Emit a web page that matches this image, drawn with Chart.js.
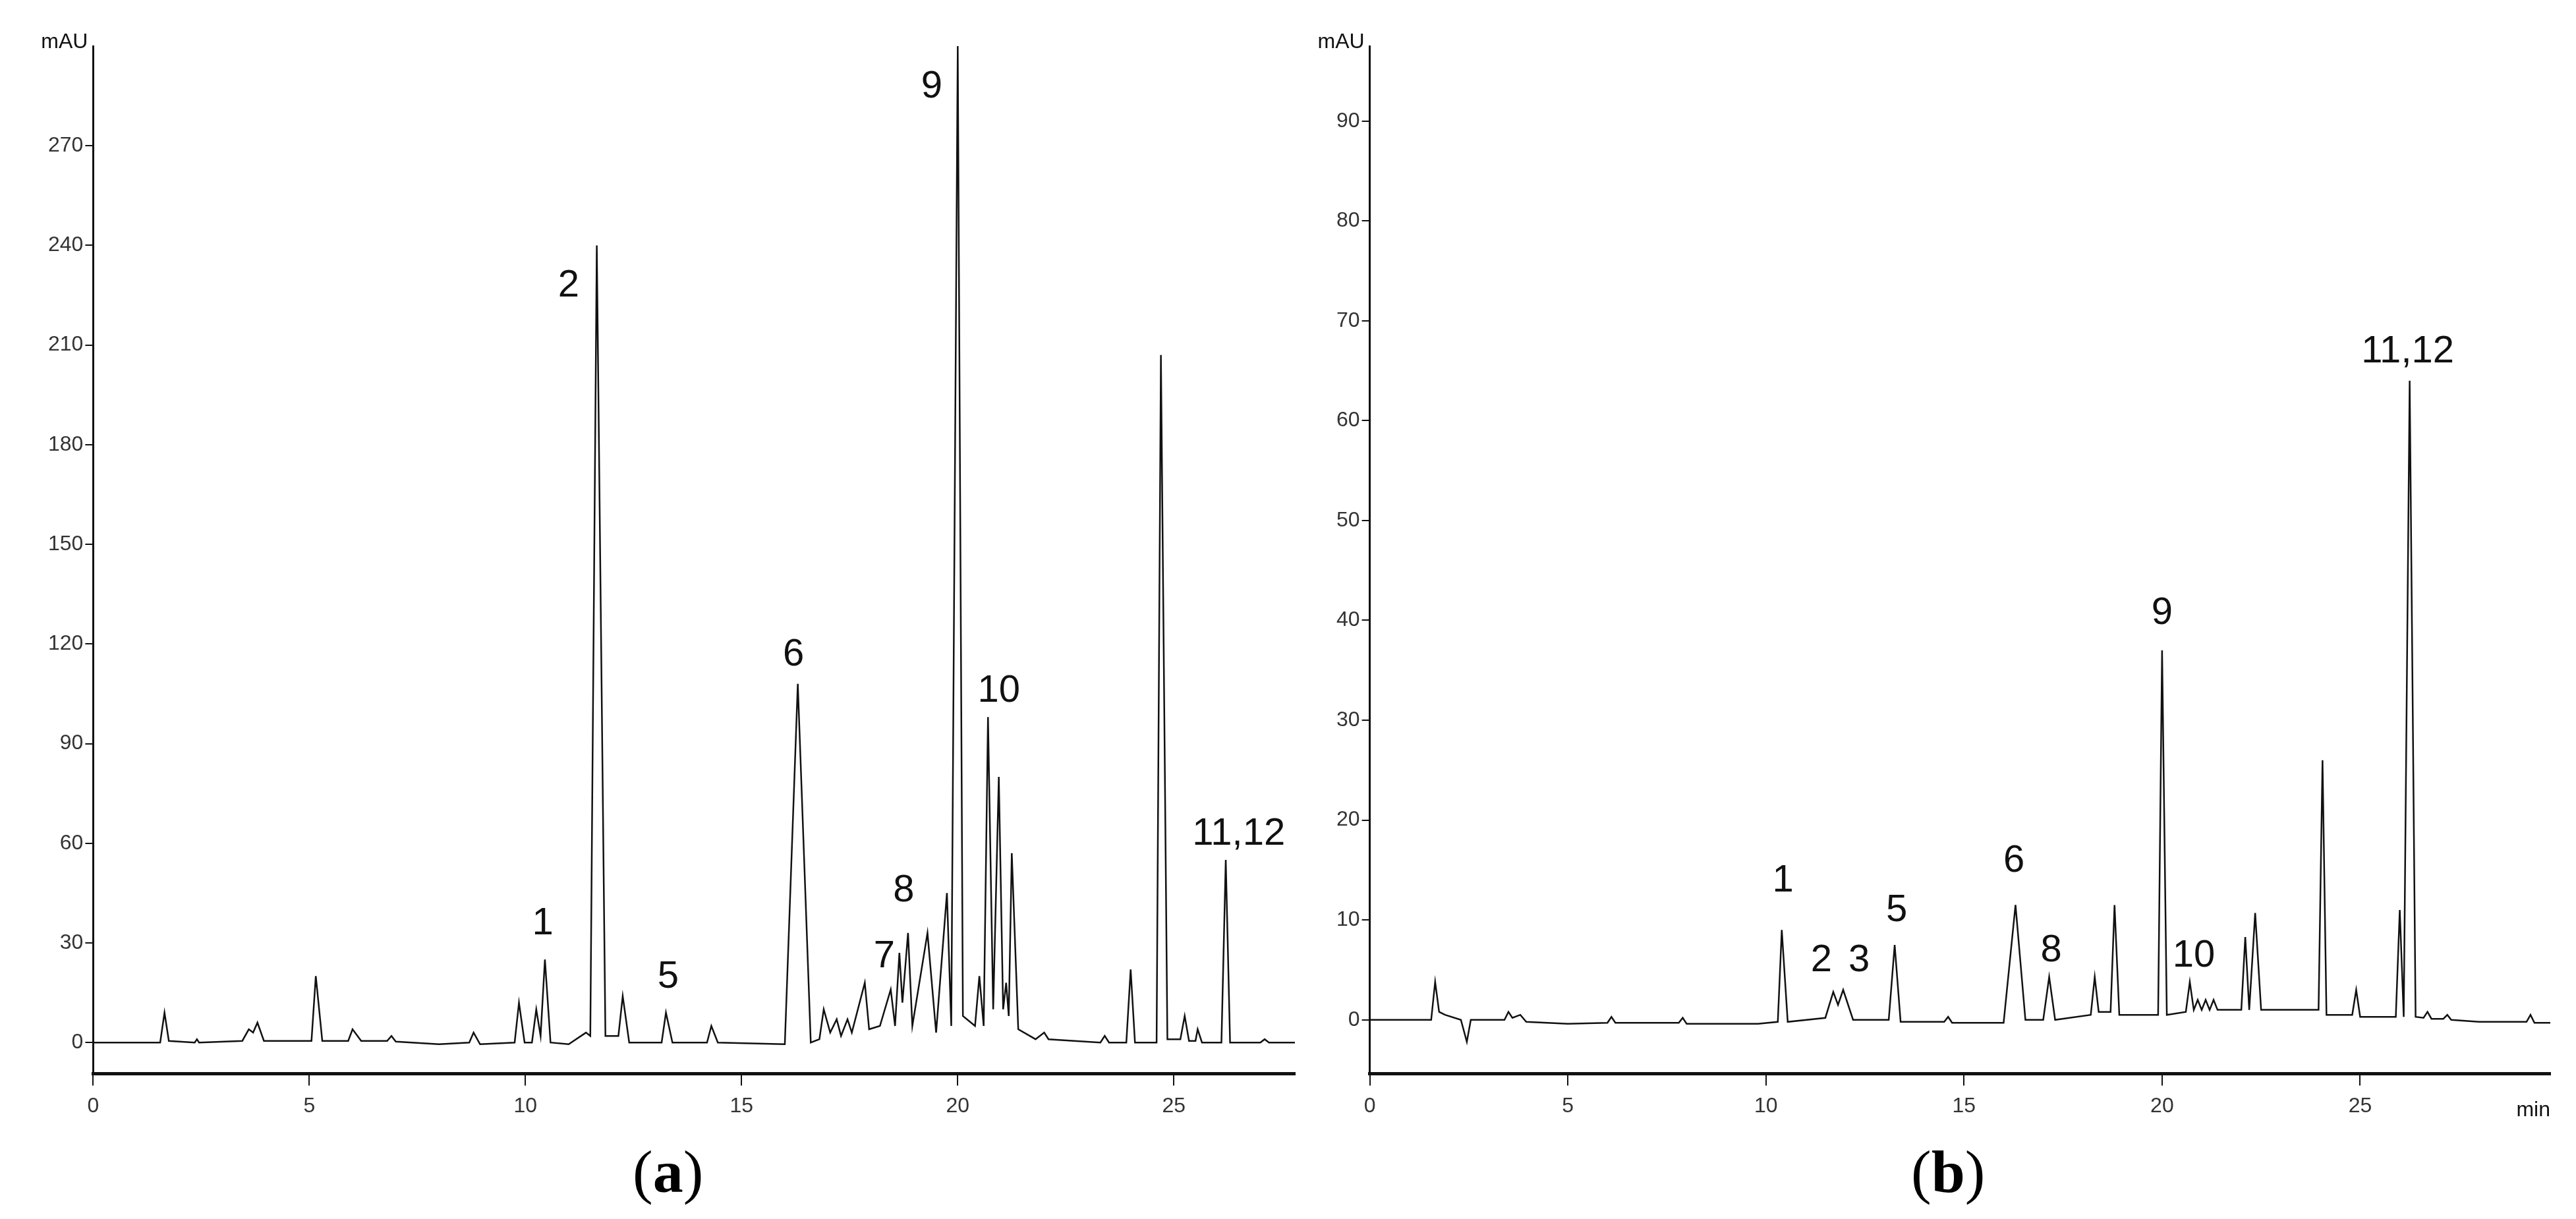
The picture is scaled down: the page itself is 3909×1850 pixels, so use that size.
<!DOCTYPE html>
<html>
<head>
<meta charset="utf-8">
<script src="https://cdn.jsdelivr.net/npm/chart.js@4"></script>
<style>
  body { margin: 0; background: #fff; width: 3909px; height: 1850px; position: relative; overflow: hidden; }
  .box { position: absolute; top: 10px; }
  .cap { position: absolute; top: 1725px; font-family: "Liberation Serif", serif; font-size: 92px; }
</style>
</head>
<body>
<div class="box" style="left:30px"><canvas id="chartA" width="1960" height="1700"></canvas></div>
<div class="box" style="left:1985px"><canvas id="chartB" width="1910" height="1700"></canvas></div>
<div class="cap" style="left:960px">(<b>a</b>)</div>
<div class="cap" style="left:2900px">(<b>b</b>)</div>
<script>
// chromatogram (a): retention time (min) and absorbance (mAU)
const timesA = [0,1.55,1.65,1.75,2.35,2.4,2.45,3.45,3.6,3.7,3.8,3.95,5.05,5.15,5.3,5.9,6.0,6.2,6.8,6.9,7.0,8.0,8.7,8.8,8.95,
  9.75,9.85,9.98,10.15,10.25,10.35,10.45,10.58,11.0,11.4,11.5,11.65,11.85,12.15,12.25,12.4,13.15,13.25,13.4,14.2,14.3,14.45,
  16.0,16.3,16.6,16.8,16.9,17.05,17.2,17.3,17.45,17.55,17.85,17.95,18.2,18.45,18.55,18.65,18.72,18.85,18.95,19.3,19.5,19.75,19.85,
  20.0,20.12,20.4,20.5,20.6,20.7,20.82,20.95,21.05,21.12,21.18,21.25,21.4,21.8,22.0,22.1,23.3,23.4,23.5,23.9,24.0,24.1,24.6,24.7,24.85,
  25.15,25.25,25.35,25.5,25.55,25.65,26.1,26.2,26.3,27.0,27.1,27.2,27.8]
const valuesA = [0,0,9,0.5,0,1,0,0.5,4,3,6,0.5,0.5,20,0.5,0.5,4,0.5,0.5,2,0.3,-0.5,0,3,-0.5,
  0,12,0,0,10,2,25,0,-0.5,3,2,240,2,2,14,0,0,9,0,0,5,0,
  -0.5,108,0,1,10,3,7,2,7,3,18,4,5,16,5,27,12,33,5,33,3,45,5,
  300,8,5,20,5,98,10,80,10,18,8,57,4,1,3,1,0,2,0,0,22,0,0,207,1,
  1,8,0.5,0.5,4,0,0,55,0,0,1,0,0]
const yTicksA = [0,30,60,90,120,150,180,210,240,270]
const xTicksA = [0,5,10,15,20,25]
const peakNamesA = ['1','2','5','6','7','8','9','10','11,12']
const peakXA = [10.4,11.0,13.3,16.2,18.3,18.75,19.4,20.95,26.5]
const peakYA = [30,222,14,111,20,40,282,100,57]

// chromatogram (b)
const timesB = [0,1.55,1.65,1.75,1.9,2.3,2.45,2.55,3.4,3.5,3.6,3.8,3.95,5.0,6.0,6.1,6.2,7.8,7.9,8.0,9.8,10.3,10.4,10.55,11.5,11.7,11.82,11.95,12.2,
  13.1,13.25,13.4,14.5,14.6,14.7,16.0,16.3,16.55,17.0,17.15,17.3,18.2,18.3,18.4,18.7,18.8,18.92,19.9,20.0,20.12,20.6,20.7,20.8,20.9,21.0,21.1,21.2,21.3,21.4,
  22.0,22.1,22.2,22.35,22.5,23.5,23.95,24.05,24.15,24.8,24.9,25.0,25.9,26.0,26.1,26.25,26.4,26.6,26.7,26.8,27.1,27.2,27.3,28.0,29.2,29.3,29.4,29.8]
const valuesB = [0,0,3.8,0.8,0.5,0,-2.2,0,0,0.8,0.2,0.5,-0.2,-0.4,-0.3,0.3,-0.3,-0.3,0.2,-0.4,-0.4,-0.2,9,-0.2,0.2,2.8,1.5,3,0,
  0,7.5,-0.2,-0.2,0.3,-0.3,-0.3,11.5,0,0,4.3,0,0.5,4.3,0.8,0.8,11.5,0.5,0.5,37,0.5,0.8,3.8,1,2,1,2,1,2,1,
  1,8.3,1,10.7,1,1,1,26,0.5,0.5,3,0.3,0.3,11,0.3,64,0.3,0.2,0.8,0.1,0.1,0.5,0,-0.2,-0.2,0.5,-0.3,-0.3]
const yTicksB = [0,10,20,30,40,50,60,70,80,90]
const xTicksB = [0,5,10,15,20,25]
const peakNamesB = ['1','2','3','5','6','8','9','10','11,12']
const peakXB = [10.43,11.4,12.35,13.3,16.26,17.2,20.0,20.8,26.2]
const peakYB = [12,4,4,9,14,5,38.8,4.5,65]

const ink = '#111'
const tickFont = { family: 'Liberation Sans', size: 32 }

const peakLabels = {
  id: 'peakLabels',
  afterDatasetsDraw(chart, args, opts) {
    const { ctx, scales } = chart
    ctx.save()
    ctx.fillStyle = ink
    ctx.font = '58px "Liberation Sans"'
    ctx.textAlign = 'center'
    ctx.textBaseline = 'bottom'
    opts.names.forEach((n, i) => {
      ctx.fillText(n, scales.x.getPixelForValue(opts.xs[i]), scales.y.getPixelForValue(opts.ys[i]))
    })
    ctx.font = '32px "Liberation Sans"'
    ctx.textAlign = 'right'
    ctx.fillText('mAU', chart.chartArea.left - 8, chart.chartArea.top + 10)
    if (opts.unit) {
      ctx.textBaseline = 'top'
      ctx.fillText(opts.unit, chart.chartArea.right, chart.chartArea.bottom + 40)
    }
    ctx.restore()
  }
}

function drawChart(id, times, values, xMax, yMin, yMax, xTicks, yTicks, names, xs, ys, unit) {
  const ctx = document.getElementById(id).getContext('2d')
  return new Chart(ctx, {
    type: 'line',
    data: {
      datasets: [{
        data: times.map((t, i) => ({ x: t, y: values[i] })),
        borderColor: ink,
        borderWidth: 2.5,
        pointRadius: 0,
        tension: 0
      }]
    },
    options: {
      responsive: false,
      animation: false,
      layout: { padding: { top: 60, left: 40, right: 25 } },
      plugins: {
        legend: { display: false },
        tooltip: { enabled: false },
        peakLabels: { names, xs, ys, unit }
      },
      scales: {
        x: {
          type: 'linear', min: 0, max: xMax,
          afterBuildTicks: s => { s.ticks = xTicks.map(v => ({ value: v })) },
          grid: { drawOnChartArea: false, tickLength: 18, color: ink, lineWidth: 2 },
          border: { color: ink, width: 5 },
          ticks: { color: '#333', font: tickFont, maxRotation: 0, padding: 12 }
        },
        y: {
          min: yMin, max: yMax,
          afterBuildTicks: s => { s.ticks = yTicks.map(v => ({ value: v })) },
          grid: { drawOnChartArea: false, tickLength: 12, color: ink, lineWidth: 2 },
          border: { color: ink, width: 3 },
          ticks: { color: '#333', font: tickFont }
        }
      }
    },
    plugins: [peakLabels]
  })
}

drawChart('chartA', timesA, valuesA, 27.8, -9.4, 300, xTicksA, yTicksA, peakNamesA, peakXA, peakYA, '')
drawChart('chartB', timesB, valuesB, 29.8, -5.4, 97.5, xTicksB, yTicksB, peakNamesB, peakXB, peakYB, 'min')
</script>
</body>
</html>
